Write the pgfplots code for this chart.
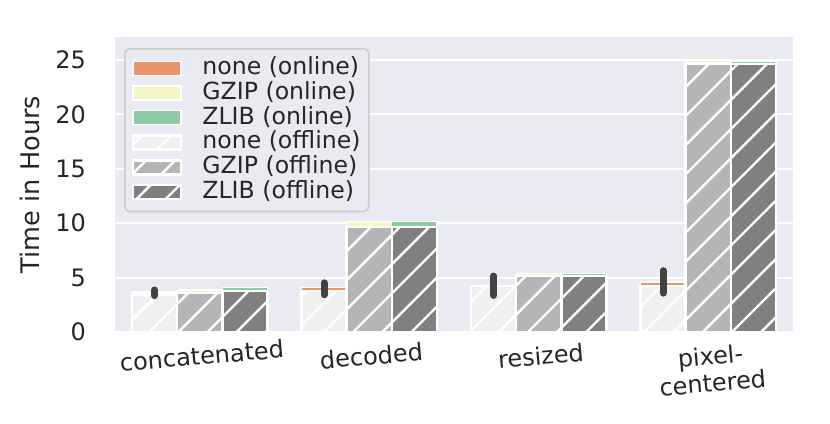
\documentclass[border=0pt]{standalone}
\usepackage{fontspec}
\setmainfont{DejaVu Sans}
\usepackage{pgfplots}
\pgfplotsset{compat=1.18}
\usetikzlibrary{patterns.meta}
\definecolor{bgc}{HTML}{EAEAF2}
\definecolor{onnone}{HTML}{E8956E}
\definecolor{ongzip}{HTML}{F5F5C5}
\definecolor{onzlib}{HTML}{8FC9A5}
\definecolor{offnone}{HTML}{F0F0F0}
\definecolor{offgzip}{HTML}{B5B5B5}
\definecolor{offzlib}{HTML}{808080}
\definecolor{errc}{HTML}{424242}
\definecolor{txt}{HTML}{262626}
\definecolor{lgb}{HTML}{CCCCCC}
\tikzset{hatch/.style={postaction={pattern color=white, pattern={Lines[angle=45,distance=10.3pt,line width=1.2pt]}}}}
\pgfplotsset{
  myleg/.style={legend image code/.code={\draw[sharp corners,##1] (0pt,-3.5pt) rectangle (24pt,3.5pt);}},
  onbar/.style={ybar, bar width=0.2667, bar shift=0pt, draw=white, line width=0.6pt, myleg},
  offbar/.style={ybar, bar width=0.2667, bar shift=0pt, draw=white, line width=1.2pt, hatch, myleg},
}
\begin{document}
\begin{tikzpicture}
\begin{axis}[
  scale only axis, width=339pt, height=147.5pt,
  xmin=-0.5, xmax=3.5, ymin=0, ymax=27.1,
  xtick={0,1,2,3},
  xticklabels={concatenated,decoded,resized,{pixel-\\centered}},
  ytick={0,5,10,15,20,25},
  axis background/.style={fill=bgc},
  axis line style={draw=none},
  major tick length=0pt,
  ymajorgrids, grid style={white, line width=1pt},
  tick label style={font=\fontsize{12}{13.6}\selectfont, text=txt},
  /pgf/number format/assume math mode=true,
  yticklabel style={xshift=-11pt},
  xticklabel style={rotate=5, anchor=north, align=center, yshift=-3.7pt},
  ylabel={Time in Hours},
  ylabel style={at={(axis description cs:-0.1254,0.5)}, anchor=center, font=\fontsize{12.8}{15}\selectfont, text=txt},
  legend cell align=left,
  legend style={at={(axis description cs:0.0133,0.963)}, anchor=north west,
    fill=bgc, draw=lgb, line width=0.8pt, rounded corners=2.5pt,
    inner sep=3.5pt, row sep=0pt, column sep=9.5pt,
    font=\fontsize{11.8}{13.5}\selectfont, text=txt,
    nodes={inner sep=0.6pt, text height=8.8pt, text depth=2.4pt}},
]
\addplot[onbar, fill=onnone] coordinates {(-0.2667,3.68) (0.7333,4.1) (1.7333,4.3) (2.7333,4.6)};
\addlegendentry{none (online)}
\addplot[onbar, fill=ongzip] coordinates {(0,3.86) (1,10.15) (2,5.35) (3,24.95)};
\addlegendentry{GZIP (online)}
\addplot[onbar, fill=onzlib] coordinates {(0.2667,4.1) (1.2667,10.15) (2.2667,5.35) (3.2667,24.9)};
\addlegendentry{ZLIB (online)}
\addplot[offbar, fill=offnone] coordinates {(-0.2667,3.45) (0.7333,3.75) (1.7333,4.2) (2.7333,4.2)};
\addlegendentry{none (offline)}
\addplot[offbar, fill=offgzip] coordinates {(0,3.6) (1,9.65) (2,5.15) (3,24.67)};
\addlegendentry{GZIP (offline)}
\addplot[offbar, fill=offzlib] coordinates {(0.2667,3.77) (1.2667,9.65) (2.2667,5.15) (3.2667,24.6)};
\addlegendentry{ZLIB (offline)}
\addplot[draw=none, mark=none, forget plot,
  error bars/.cd, y dir=both, y explicit, error mark=none,
  error bar style={draw=errc, line width=3.5pt, line cap=round, solid}]
  coordinates {(-0.2667,3.6) +- (0,0.26) (0.7333,3.97) +- (0,0.55) (1.7333,4.25) +- (0,0.89) (2.7333,4.6) +- (0,1.03)};
\end{axis}
\pgfresetboundingbox
\path[use as bounding box] ([xshift=-57.5pt,yshift=-45.5pt]current axis.south west) rectangle ([xshift=18.5pt,yshift=18.5pt]current axis.north east);
\end{tikzpicture}
\end{document}
